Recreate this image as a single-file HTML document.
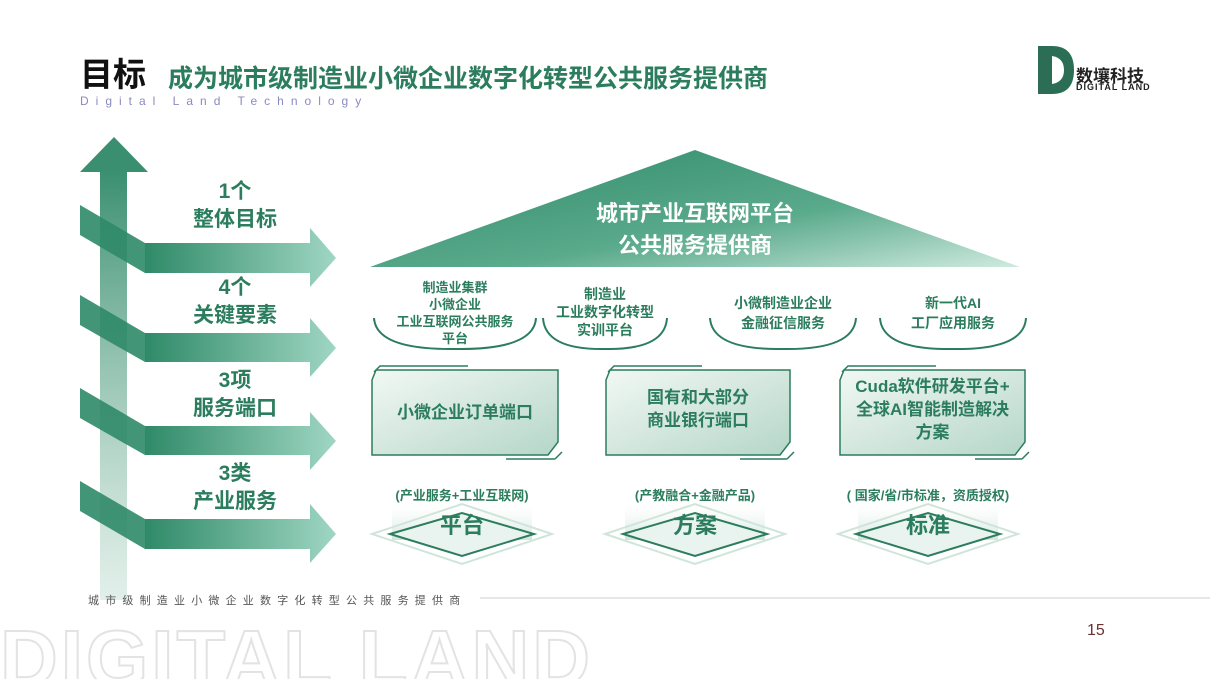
<!DOCTYPE html>
<html><head><meta charset="utf-8"><style>
html,body{margin:0;padding:0;background:#fff;}
body{width:1210px;height:679px;overflow:hidden;position:relative;font-family:"Liberation Sans","Noto Sans CJK SC",sans-serif;}
.a{position:absolute;white-space:nowrap;}
.g{color:#2b7d5e;font-weight:bold;}
</style></head><body>
<svg width="1210" height="679" style="position:absolute;left:0;top:0">
<defs>
<linearGradient id="hz" x1="0" x2="1"><stop offset="0" stop-color="#2f8a68"/><stop offset="1" stop-color="#9fd6c3"/></linearGradient>
<linearGradient id="vt" x1="0" y1="0" x2="0" y2="1"><stop offset="0" stop-color="#3a8f70"/><stop offset="1" stop-color="#cfe5dc" stop-opacity="0.6"/></linearGradient>
<linearGradient id="roof" x1="0" y1="0" x2="1" y2="1"><stop offset="0" stop-color="#2e8a68"/><stop offset="0.6" stop-color="#5aaa8c"/><stop offset="1" stop-color="#cfeadf"/></linearGradient>
<linearGradient id="box" x1="0" y1="0" x2="1" y2="1"><stop offset="0" stop-color="#f2f8f5"/><stop offset="1" stop-color="#b5d6c8"/></linearGradient>
<linearGradient id="plat" x1="0" y1="0" x2="0" y2="1"><stop offset="0" stop-color="#fff" stop-opacity="0"/><stop offset="1" stop-color="#cfe5dc"/></linearGradient>
</defs>
<rect x="100" y="170" width="27" height="430" fill="url(#vt)"/>
<polygon points="114,137 148,172 80,172" fill="#3a8f70"/>
<g>
<polygon points="80,205 145,243 145,273 80,235" fill="#2f8a68" opacity="0.9"/>
<polygon points="145,243 310,243 310,228 336,258 310,287 310,273 145,273" fill="url(#hz)"/>
<polygon points="80,295 145,333 145,362 80,325" fill="#2f8a68" opacity="0.9"/>
<polygon points="145,333 310,333 310,318 336,348 310,377 310,362 145,362" fill="url(#hz)"/>
<polygon points="80,388 145,426 145,455 80,418" fill="#2f8a68" opacity="0.9"/>
<polygon points="145,426 310,426 310,412 336,441 310,470 310,455 145,455" fill="url(#hz)"/>
<polygon points="80,481 145,519 145,549 80,511" fill="#2f8a68" opacity="0.9"/>
<polygon points="145,519 310,519 310,504 336,534 310,563 310,549 145,549" fill="url(#hz)"/>
</g>
<polygon points="695,150 1020,267 370,267" fill="url(#roof)"/>
<g fill="none" stroke="#2b7d5e" stroke-width="2">
<path d="M374,318 Q376,350 455,349 Q534,350 536,318"/>
<path d="M543,318 Q545,350 605,349 Q665,350 667,318"/>
<path d="M710,318 Q712,350 783,349 Q854,350 856,318"/>
<path d="M880,318 Q882,350 953,349 Q1024,350 1026,318"/>
</g>
<g stroke="#2b7d5e" stroke-width="1.5">
<path d="M376,370 L558,370 L558,442 L548,455 L372,455 L372,380 Z" fill="url(#box)"/>
<path d="M610,370 L790,370 L790,442 L780,455 L606,455 L606,380 Z" fill="url(#box)"/>
<path d="M844,370 L1025,370 L1025,442 L1015,455 L840,455 L840,380 Z" fill="url(#box)"/>
<path d="M374,372 L380,366 L468,366 M555,459 L562,452 M506,459 L555,459" fill="none"/>
<path d="M608,372 L614,366 L702,366 M787,459 L794,452 M740,459 L787,459" fill="none"/>
<path d="M842,372 L848,366 L936,366 M1022,459 L1029,452 M975,459 L1022,459" fill="none"/>
</g>
<g>
<rect x="392" y="500" width="140" height="40" fill="url(#plat)"/>
<polygon points="372,534 462,504 552,534 462,564" fill="none" stroke="#cfe5dc" stroke-width="2"/>
<polygon points="390,534 462,513 534,534 462,556" fill="#e9f3ef" stroke="#2b7d5e" stroke-width="2"/>
<rect x="625" y="500" width="140" height="40" fill="url(#plat)"/>
<polygon points="605,534 695,504 785,534 695,564" fill="none" stroke="#cfe5dc" stroke-width="2"/>
<polygon points="623,534 695,513 767,534 695,556" fill="#e9f3ef" stroke="#2b7d5e" stroke-width="2"/>
<rect x="858" y="500" width="140" height="40" fill="url(#plat)"/>
<polygon points="838,534 928,504 1018,534 928,564" fill="none" stroke="#cfe5dc" stroke-width="2"/>
<polygon points="856,534 928,513 1000,534 928,556" fill="#e9f3ef" stroke="#2b7d5e" stroke-width="2"/>
</g>
<line x1="480" y1="598" x2="1210" y2="598" stroke="#ccc" stroke-width="1"/>
<path d="M1038,46 L1052,46 Q1074,46 1074,70 Q1074,94 1052,94 L1038,94 Z" fill="#2b6e55"/>
<path d="M1052,56 Q1064,58 1064,70 Q1064,82 1052,84 Z" fill="#fff"/>
<text x="0" y="686" font-family="Liberation Sans" font-size="80" font-weight="bold" fill="none" stroke="#e3e3e3" stroke-width="2" letter-spacing="3">DIGITAL LAND</text>
</svg>
<div class="a" style="left:80px;top:48px;font-size:33px;font-weight:bold;color:#111">目标</div>
<div class="a g" style="left:168px;top:59px;font-size:25px;">成为城市级制造业小微企业数字化转型公共服务提供商</div>
<div class="a" style="left:80px;top:94px;font-size:12px;letter-spacing:7px;color:#8a8ac0">Digital Land Technology</div>
<div class="a" style="left:1076px;top:62px;font-size:17px;font-weight:bold;color:#222">数壤科技</div>
<div class="a" style="left:1076px;top:82px;font-size:9px;font-weight:bold;color:#222;letter-spacing:1px">DIGITAL LAND</div>
<div class="a g" style="left:180px;top:178px;width:110px;text-align:center;font-size:21px;line-height:28px;">1个<br>整体目标</div>
<div class="a g" style="left:180px;top:274px;width:110px;text-align:center;font-size:21px;line-height:28px;">4个<br>关键要素</div>
<div class="a g" style="left:180px;top:367px;width:110px;text-align:center;font-size:21px;line-height:28px;">3项<br>服务端口</div>
<div class="a g" style="left:180px;top:460px;width:110px;text-align:center;font-size:21px;line-height:28px;">3类<br>产业服务</div>
<div class="a" style="left:495px;top:198px;width:400px;text-align:center;font-size:22px;line-height:32px;font-weight:bold;color:#fff">城市产业互联网平台<br>公共服务提供商</div>
<div class="a g" style="left:375px;top:279px;width:160px;text-align:center;font-size:13px;line-height:17px;">制造业集群<br>小微企业<br>工业互联网公共服务<br>平台</div>
<div class="a g" style="left:525px;top:285px;width:160px;text-align:center;font-size:14px;line-height:18px;">制造业<br>工业数字化转型<br>实训平台</div>
<div class="a g" style="left:703px;top:293px;width:160px;text-align:center;font-size:14px;line-height:20px;">小微制造业企业<br>金融征信服务</div>
<div class="a g" style="left:873px;top:293px;width:160px;text-align:center;font-size:14px;line-height:20px;">新一代AI<br>工厂应用服务</div>
<div class="a g" style="left:372px;top:398px;width:186px;text-align:center;font-size:17px;">小微企业订单端口</div>
<div class="a g" style="left:606px;top:386px;width:184px;text-align:center;font-size:17px;line-height:23px;">国有和大部分<br>商业银行端口</div>
<div class="a g" style="left:840px;top:375px;width:185px;text-align:center;font-size:17px;line-height:23px;">Cuda软件研发平台+<br>全球AI智能制造解决<br>方案</div>
<div class="a g" style="left:372px;top:485px;width:180px;text-align:center;font-size:13px;">(产业服务+工业互联网)</div>
<div class="a g" style="left:605px;top:485px;width:180px;text-align:center;font-size:13px;">(产教融合+金融产品)</div>
<div class="a g" style="left:828px;top:485px;width:200px;text-align:center;font-size:13px;">( 国家/省/市标准，资质授权)</div>
<div class="a g" style="left:402px;top:508px;width:120px;text-align:center;font-size:22px;">平台</div>
<div class="a g" style="left:635px;top:508px;width:120px;text-align:center;font-size:22px;">方案</div>
<div class="a g" style="left:868px;top:508px;width:120px;text-align:center;font-size:22px;">标准</div>
<div class="a" style="left:88px;top:592px;font-size:11px;letter-spacing:6.2px;color:#555">城市级制造业小微企业数字化转型公共服务提供商</div>
<div class="a" style="left:1087px;top:622px;font-size:16px;color:#6b3030">15</div>
</body></html>
